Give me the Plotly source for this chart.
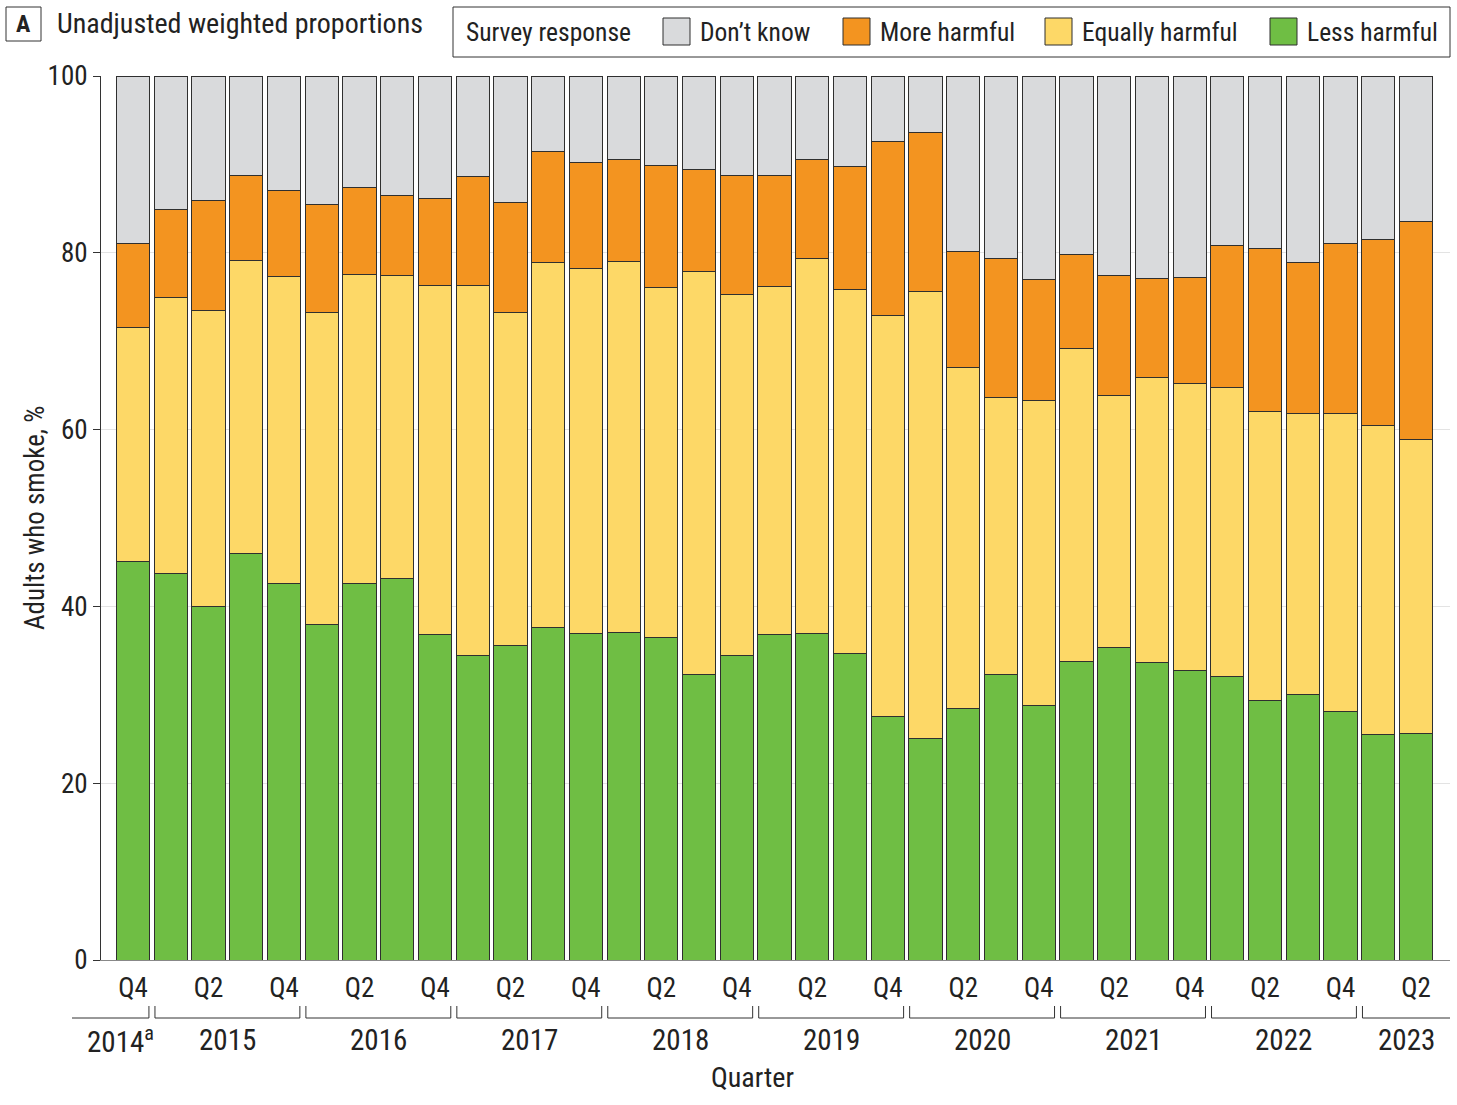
import plotly.graph_objects as go

# quarters shown on the x axis (2014 Q4 .. 2023 Q2)
periods = ["2014 Q4",
           "2015 Q1", "2015 Q2", "2015 Q3", "2015 Q4",
           "2016 Q1", "2016 Q2", "2016 Q3", "2016 Q4",
           "2017 Q1", "2017 Q2", "2017 Q3", "2017 Q4",
           "2018 Q1", "2018 Q2", "2018 Q3", "2018 Q4",
           "2019 Q1", "2019 Q2", "2019 Q3", "2019 Q4",
           "2020 Q1", "2020 Q2", "2020 Q3", "2020 Q4",
           "2021 Q1", "2021 Q2", "2021 Q3", "2021 Q4",
           "2022 Q1", "2022 Q2", "2022 Q3", "2022 Q4",
           "2023 Q1", "2023 Q2"]

# survey response shares, %
less_harmful = [45.1, 43.7, 40.0, 46.0, 42.6, 38.0, 42.6, 43.2, 36.8, 34.4, 35.6, 37.6,
                36.9, 37.1, 36.5, 32.3, 34.4, 36.8, 36.9, 34.7, 27.5, 25.1, 28.4, 32.3,
                28.8, 33.8, 35.4, 33.6, 32.8, 32.1, 29.3, 30.0, 28.1, 25.5, 25.6]
equally_harmful = [26.4, 31.3, 33.5, 33.1, 34.7, 35.2, 34.9, 34.2, 39.5, 41.9, 37.7, 41.3,
                   41.3, 41.9, 39.6, 45.6, 40.9, 39.4, 42.5, 41.2, 45.4, 50.5, 38.6, 31.3,
                   34.5, 35.4, 28.5, 32.3, 32.4, 32.7, 32.7, 31.8, 33.7, 35.0, 33.3]
more_harmful = [9.6, 9.9, 12.4, 9.6, 9.8, 12.3, 9.9, 9.1, 9.8, 12.3, 12.4, 12.6,
                12.0, 11.5, 13.8, 11.5, 13.4, 12.6, 11.2, 13.9, 19.7, 18.0, 13.2, 15.7,
                13.7, 10.6, 13.5, 11.2, 12.0, 16.0, 18.5, 17.1, 19.2, 21.0, 24.6]
dont_know = [18.9, 15.1, 14.1, 11.3, 12.9, 14.5, 12.6, 13.5, 13.9, 11.4, 14.3, 8.5,
             9.8, 9.5, 10.1, 10.6, 11.3, 11.2, 9.4, 10.2, 7.4, 6.4, 19.8, 20.6,
             23.0, 20.2, 22.6, 22.9, 22.8, 19.2, 19.5, 21.1, 19.0, 18.5, 16.5]

tick_periods = periods[0::2]
tick_labels = [p.split(" ")[1] for p in tick_periods]
years = ["2014", "2015", "2016", "2017", "2018", "2019", "2020", "2021", "2022", "2023"]
year_text = ["2014<sup>a</sup>"] + years[1:]

series = [
    ("Less harmful", less_harmful, "#6FBE44"),
    ("Equally harmful", equally_harmful, "#FDD867"),
    ("More harmful", more_harmful, "#F39420"),
    ("Don\u2019t know", dont_know, "#D9DADC"),
]

FONT = "Roboto Condensed, Liberation Sans Narrow, DejaVu Sans Condensed, Roboto, sans-serif"
TXT = "#222"
W, H = 1457, 1105
L, T = 101, 76
R = W - 1450
B = H - 960
XR = [-0.85, 34.9]

fig = go.Figure()
for name, vals, col in series:
    fig.add_trace(go.Bar(
        x=periods, y=vals, name=name, showlegend=False,
        marker=dict(color=col, line=dict(color="#2f2f2f", width=1)),
    ))


# helpers: page pixels -> paper coords
def px_x(p):
    return (p - L) / (W - L - R)


def px_y(p):
    return (H - B - p) / (H - T - B)


def idx_x(i):
    return (i - XR[0]) / (XR[1] - XR[0])


shapes = []
annos = []
line_style = dict(color="#333", width=1)

# year brackets below the quarter labels
for k, yr in enumerate(years):
    ids = [i for i, p in enumerate(periods) if p.startswith(yr)]
    x0 = idx_x(ids[0] - 0.42) if k > 0 else px_x(72)
    x1 = idx_x(ids[-1] + 0.42) if k < len(years) - 1 else 1.0
    y_line, y_tick = px_y(1018), px_y(1006)
    shapes.append(dict(type="line", xref="paper", yref="paper", x0=x0, x1=x1,
                       y0=y_line, y1=y_line, line=line_style))
    if k > 0:
        shapes.append(dict(type="line", xref="paper", yref="paper", x0=x0, x1=x0,
                           y0=y_line, y1=y_tick, line=line_style))
    if k < len(years) - 1:
        shapes.append(dict(type="line", xref="paper", yref="paper", x0=x1, x1=x1,
                           y0=y_line, y1=y_tick, line=line_style))
    xc = (x0 + x1) / 2 if k > 0 else px_x(120)
    annos.append(dict(xref="paper", yref="paper", x=xc, y=px_y(1040),
                      text=year_text[k], showarrow=False, xanchor="center", yanchor="middle",
                      font=dict(size=29, color=TXT)))

annos.append(dict(xref="paper", yref="paper", x=px_x(752), y=px_y(1077), text="Quarter",
                  showarrow=False, font=dict(size=28, color=TXT), yanchor="middle"))
annos.append(dict(xref="paper", yref="paper", x=px_x(35), y=0.5, text="Adults who smoke, %",
                  showarrow=False, textangle=-90, xanchor="center", yanchor="middle",
                  font=dict(size=27, color=TXT)))

# panel label and heading
shapes.append(dict(type="rect", xref="paper", yref="paper", x0=px_x(6), x1=px_x(41),
                   y0=px_y(41), y1=px_y(7), line=line_style))
annos.append(dict(xref="paper", yref="paper", x=px_x(23.5), y=px_y(24), text="<b>A</b>",
                  showarrow=False, xanchor="center", yanchor="middle",
                  font=dict(size=24, color=TXT)))
annos.append(dict(xref="paper", yref="paper", x=px_x(55), y=px_y(24),
                  text="Unadjusted weighted proportions", showarrow=False,
                  xanchor="left", yanchor="middle", font=dict(size=28, color=TXT)))

# hand-drawn legend box
shapes.append(dict(type="rect", xref="paper", yref="paper", x0=px_x(453), x1=px_x(1450),
                   y0=px_y(57), y1=px_y(7), line=line_style))
annos.append(dict(xref="paper", yref="paper", x=px_x(464), y=px_y(32),
                  text="Survey response", showarrow=False, xanchor="left",
                  yanchor="middle", font=dict(size=25.5, color=TXT)))
legend_pos = [(1270, 1305), (1045, 1080), (843, 878), (663, 698)]
for (name, _, col), (sx, tx) in zip(series, legend_pos):
    shapes.append(dict(type="rect", xref="paper", yref="paper", x0=px_x(sx), x1=px_x(sx + 27),
                       y0=px_y(45), y1=px_y(18), fillcolor=col,
                       line=dict(color="#2f2f2f", width=1)))
    annos.append(dict(xref="paper", yref="paper", x=px_x(tx), y=px_y(32), text=name,
                      showarrow=False, xanchor="left", yanchor="middle",
                      font=dict(size=25.5, color=TXT)))

fig.update_layout(
    width=W, height=H,
    margin=dict(l=L, r=R, t=T, b=B),
    barmode="stack", bargap=0.12,
    plot_bgcolor="white", paper_bgcolor="white",
    font=dict(family=FONT, size=22, color=TXT),
    shapes=shapes, annotations=annos,
    xaxis=dict(type="category", categoryorder="array", categoryarray=periods,
               range=XR, tickmode="array", tickvals=tick_periods, ticktext=tick_labels,
               ticks="outside", ticklen=4, tickcolor="rgba(0,0,0,0)",
               tickfont=dict(size=27), showgrid=False, showline=True,
               linecolor="#888", linewidth=1, zeroline=False),
    yaxis=dict(range=[0, 100], tickvals=[0, 20, 40, 60, 80, 100],
               ticks="outside", ticklen=7, tickcolor="#333", tickfont=dict(size=27),
               showgrid=True, gridcolor="#e3e3e3", gridwidth=1,
               showline=True, linecolor="#333", linewidth=1, zeroline=False),
)

# drop the browser's default body margin so the figure sits at the page corner
fig.write_html("out.html", config={"displayModeBar": False},
               post_script="document.body.style.margin = '0';")
